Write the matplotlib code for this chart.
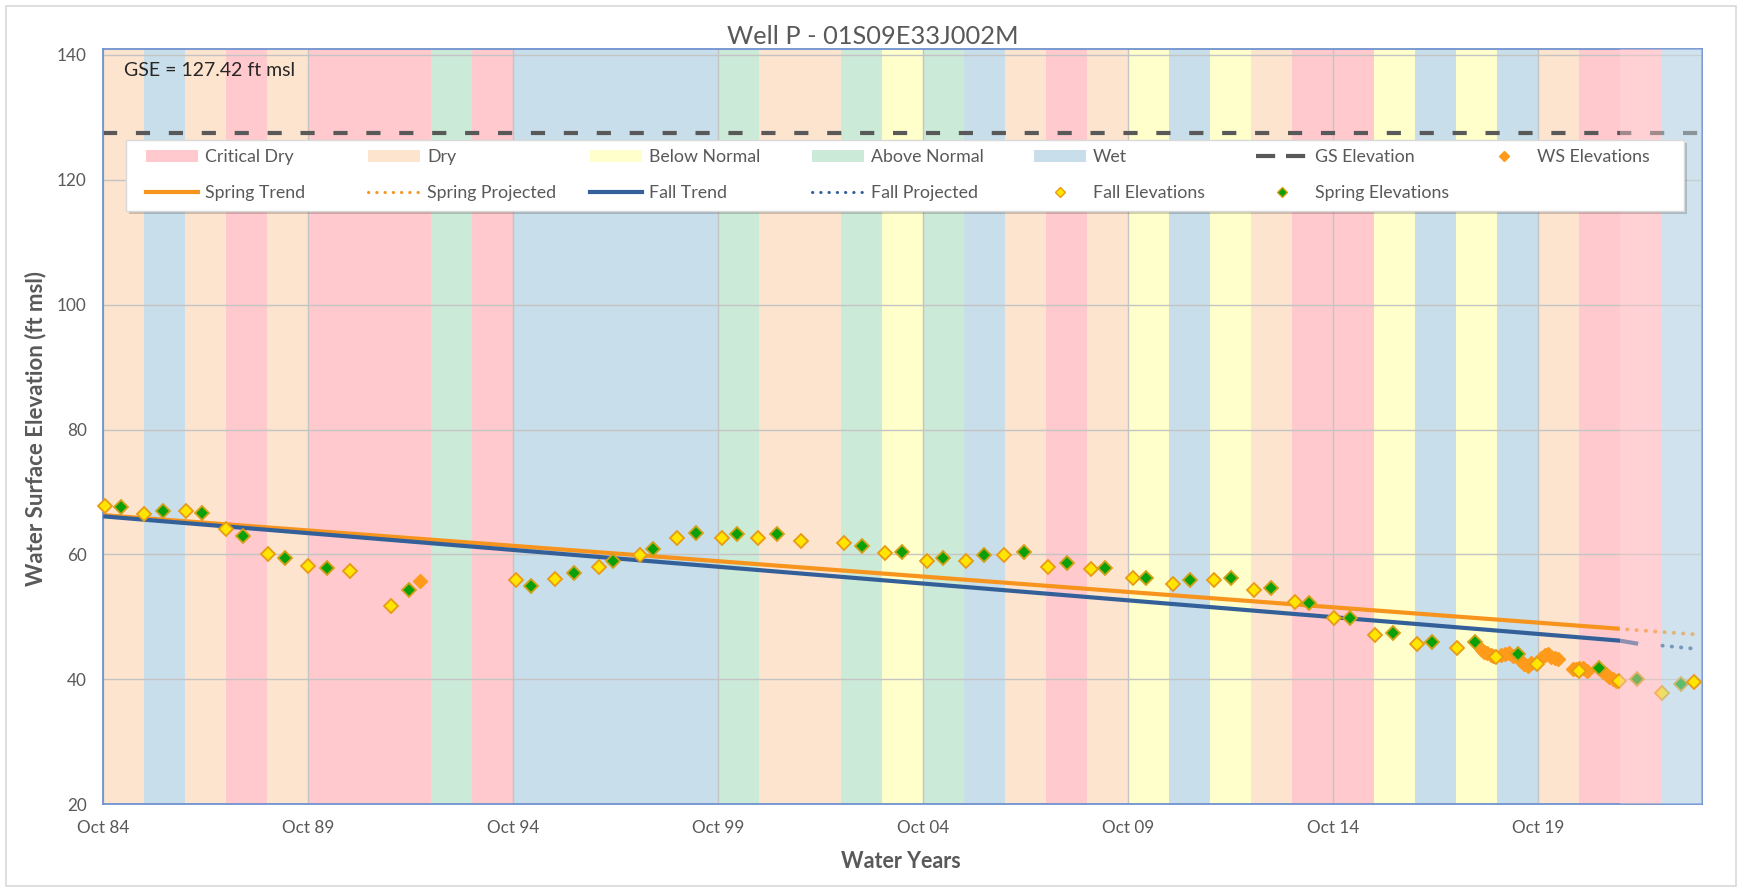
import matplotlib
matplotlib.use('Agg')
import matplotlib.pyplot as plt
from matplotlib.patches import Rectangle, Patch
from matplotlib.lines import Line2D
from matplotlib.legend import Legend

# ---------------- data ----------------
title = "Well P - 01S09E33J002M"
gse_value = 127.42

water_years = list(range(1985, 2024))
year_types = ['D', 'W', 'D', 'C', 'D', 'C', 'C', 'C', 'AN', 'C',
              'W', 'W', 'W', 'W', 'W', 'AN', 'D', 'D', 'AN', 'BN',
              'AN', 'W', 'D', 'C', 'D', 'BN', 'W', 'BN', 'D', 'C',
              'C', 'BN', 'W', 'BN', 'W', 'D', 'C', 'C', 'W']
overlay_years = [2022, 2023]

fall_years = [1984.78, 1985.75, 1986.76, 1987.74, 1988.77, 1989.75, 1990.76, 1991.77,
              1994.83, 1995.77, 1996.84, 1997.84, 1998.75, 1999.84, 2000.73, 2001.78,
              2002.82, 2003.82, 2004.84, 2005.80, 2006.73, 2007.80, 2008.84, 2009.88,
              2010.84, 2011.86, 2012.82, 2013.82, 2014.77, 2015.77, 2016.81, 2017.78,
              2018.72, 2019.73, 2020.76, 2021.74, 2022.78]
fall_vals = [67.7, 66.5, 66.9, 64.1, 60.0, 58.1, 57.3, 51.7,
             55.95, 56.05, 58.0, 59.9, 62.7, 62.7, 62.7, 62.1,
             61.9, 60.3, 58.9, 58.9, 59.9, 58.0, 57.6, 56.3,
             55.25, 55.9, 54.3, 52.4, 49.8, 47.1, 45.6, 45.1,
             43.6, 42.4, 41.4, 39.8, 37.8]
fall_latest_years = [2023.55]
fall_latest_vals = [39.5]

spring_years = [1985.19, 1986.20, 1987.17, 1988.17, 1989.19, 1990.21, 1992.21,
                1995.18, 1996.24, 1997.18, 1998.16, 1999.22, 2000.20, 2001.19,
                2003.25, 2004.24, 2005.24, 2006.24, 2007.22, 2008.26, 2009.18,
                2010.19, 2011.26, 2012.27, 2013.24, 2014.17, 2015.16, 2016.21,
                2017.18, 2018.22, 2019.26, 2021.25, 2022.18, 2023.24]
spring_vals = [67.6, 67.0, 66.7, 63.0, 59.5, 57.9, 54.3,
               55.0, 57.1, 59.0, 60.8, 63.5, 63.3, 63.3,
               61.4, 60.4, 59.5, 59.9, 60.4, 58.7, 57.9,
               56.3, 55.9, 56.3, 54.7, 52.3, 49.8, 47.4,
               46.0, 46.0, 44.1, 41.9, 40.0, 39.2]

ws_years = [1992.47, 2018.38, 2018.45, 2018.52, 2018.60, 2018.66, 2018.86, 2018.95,
            2019.05, 2019.14, 2019.35, 2019.42, 2019.50, 2019.58, 2019.84, 2019.92,
            2020.00, 2020.08, 2020.17, 2020.25, 2020.60, 2020.68, 2020.76, 2020.85,
            2020.95, 2021.35, 2021.42, 2021.50, 2021.58, 2021.66]
ws_vals = [55.8, 44.7, 44.4, 44.2, 43.9, 43.7, 43.9, 44.1,
           44.2, 43.8, 43.0, 42.4, 42.2, 42.6, 43.4, 43.9,
           44.0, 43.6, 43.5, 43.2, 41.7, 41.6, 41.8, 41.9,
           41.4, 41.2, 40.8, 40.4, 40.0, 39.8]

spring_trend_years = [1984.75, 2021.75]
spring_trend_vals = [66.3, 48.1]
spring_proj_years = [2021.93, 2023.59]
spring_proj_vals = [48.0, 47.2]
fall_trend_years = [1984.75, 2021.75, 2022.20]
fall_trend_vals = [66.1, 46.2, 45.7]
fall_proj_years = [2022.79, 2023.59]
fall_proj_vals = [45.4, 44.9]

x_ticks = [1984.75, 1989.75, 1994.75, 1999.75, 2004.75, 2009.75, 2014.75, 2019.75]
x_tick_labels = ['Oct 84', 'Oct 89', 'Oct 94', 'Oct 99', 'Oct 04', 'Oct 09', 'Oct 14', 'Oct 19']
y_ticks = [20, 40, 60, 80, 100, 120, 140]

type_colors = {'C': '#FFC9CD', 'D': '#FDE4CF', 'BN': '#FFFFCC', 'AN': '#CCEAD8', 'W': '#C8DEEA'}
type_names = {'C': 'Critical Dry', 'D': 'Dry', 'BN': 'Below Normal', 'AN': 'Above Normal', 'W': 'Wet'}

# ---------------- styles ----------------
ORANGE = '#F7941D'
BLUE = '#34609A'
GRAY_TXT = '#595959'
FALL_FC, FALL_EC = '#FFE500', '#E99A14'
SPR_FC, SPR_EC = '#0AA00A', '#D4A017'
WS_C = '#FF9A1A'

W, H = 1742, 892
plt.rcParams['font.family'] = ['Lato', 'DejaVu Sans']
fig = plt.figure(figsize=(W / 100, H / 100), dpi=100)


def fx(px):
    return px / W


def fy(py):
    return 1 - py / H


ax_l, ax_r, ax_t, ax_b = 103.3, 1701.7, 48.5, 804.3
ax = fig.add_axes([fx(ax_l), fy(ax_b), fx(ax_r) - fx(ax_l), fy(ax_t) - fy(ax_b)])
ax.set_xlim(1984.75, 2023.75)
ax.set_ylim(20, 141)

# water-year bands (Oct of previous year to Oct of the water year)
for wy, t in zip(water_years, year_types):
    base_alpha = 0.7 if wy in overlay_years else 1.0
    ax.axvspan(wy - 0.25, wy + 0.75, color=type_colors[t], alpha=base_alpha, lw=0, zorder=0)

# grid
ax.set_axisbelow(True)
ax.set_xticks(x_ticks)
ax.set_xticklabels(x_tick_labels)
ax.set_yticks(y_ticks)
ax.grid(True, color='#c4c4c4', lw=1.0)
ax.tick_params(length=0, colors=GRAY_TXT, labelsize=12.3)
ax.tick_params(axis='y', pad=12)
ax.tick_params(axis='x', pad=11)
for s in ax.spines.values():
    s.set_color('#7092d0')
    s.set_linewidth(1.3)

# GS elevation
ax.axhline(gse_value, color='#595959', lw=3, dashes=(3.4, 4.5), zorder=2)

# trend lines
ax.plot(spring_trend_years, spring_trend_vals, color=ORANGE, lw=3, zorder=2.5, solid_capstyle='butt')
ax.plot(fall_trend_years, fall_trend_vals, color=BLUE, lw=3, zorder=2.6, solid_capstyle='butt')
ax.plot(spring_proj_years, spring_proj_vals, color=ORANGE, lw=2.8, ls=(0, (0.1, 2.3)),
        dash_capstyle='round', zorder=2.5)
ax.plot(fall_proj_years, fall_proj_vals, color=BLUE, lw=2.8, ls=(0, (0.1, 2.3)),
        dash_capstyle='round', zorder=2.6)

# points
ax.plot(ws_years, ws_vals, ls='none', marker='D', ms=7.5, mfc=WS_C, mec=WS_C, mew=1.0, zorder=3)
ax.plot(fall_years, fall_vals, ls='none', marker='D', ms=7.5, mfc=FALL_FC, mec=FALL_EC, mew=1.3,
        zorder=3.2, clip_on=False)
ax.plot(spring_years, spring_vals, ls='none', marker='D', ms=7.5, mfc=SPR_FC, mec=SPR_EC, mew=1.3,
        zorder=3.3, clip_on=False)

# translucent overlay for latest water years
for wy, t in zip(water_years, year_types):
    if wy in overlay_years:
        ax.axvspan(wy - 0.25, wy + 0.75, color=type_colors[t], alpha=0.45, lw=0, zorder=4)

ax.plot(fall_latest_years, fall_latest_vals, ls='none', marker='D', ms=7.5, mfc=FALL_FC,
        mec=FALL_EC, mew=1.3, zorder=4.5, clip_on=False)

# GSE annotation
fig.text(fx(124), fy(70), f"GSE = {gse_value:.2f} ft msl", fontsize=14, color='#262626',
         ha='left', va='center')

# legend box
box_l, box_t, box_r, box_b = 126, 140, 1684, 211
shadow = Rectangle((fx(box_l + 3), fy(box_b + 3)), fx(box_r) - fx(box_l), fy(box_t) - fy(box_b),
                   transform=fig.transFigure, facecolor='#000000', alpha=0.18, lw=0, zorder=4.7,
                   clip_on=False)
ax.add_patch(shadow)
box = Rectangle((fx(box_l), fy(box_b)), fx(box_r) - fx(box_l), fy(box_t) - fy(box_b),
                transform=fig.transFigure, facecolor='white', edgecolor='#d9d9d9', lw=1,
                zorder=4.8, clip_on=False)
ax.add_patch(box)

band_handles = [Patch(facecolor=type_colors[k], edgecolor='none') for k in ['C', 'D', 'BN', 'AN', 'W']]
band_labels = [type_names[k] for k in ['C', 'D', 'BN', 'AN', 'W']]
h_spring = Line2D([], [], color=ORANGE, lw=3)
h_spring_p = Line2D([], [], color=ORANGE, lw=2.2, ls=(0, (0.1, 2.6)), dash_capstyle='round')
h_fall = Line2D([], [], color=BLUE, lw=3)
h_fall_p = Line2D([], [], color=BLUE, lw=2.2, ls=(0, (0.1, 2.6)), dash_capstyle='round')
h_fall_pts = Line2D([], [], ls='none', marker='D', ms=5, mfc=FALL_FC, mec=FALL_EC, mew=1)
h_spr_pts = Line2D([], [], ls='none', marker='D', ms=5, mfc=SPR_FC, mec=SPR_EC, mew=1)
h_ws = Line2D([], [], ls='none', marker='D', ms=5, mfc=WS_C, mec=WS_C, mew=1)
h_gs = Line2D([], [], color='#595959', lw=3, dashes=(4.6, 2.6))

columns = [
    [(band_handles[0], band_labels[0]), (h_spring, 'Spring Trend')],
    [(band_handles[1], band_labels[1]), (h_spring_p, 'Spring Projected')],
    [(band_handles[2], band_labels[2]), (h_fall, 'Fall Trend')],
    [(band_handles[3], band_labels[3]), (h_fall_p, 'Fall Projected')],
    [(band_handles[4], band_labels[4]), (h_fall_pts, 'Fall Elevations')],
    [(h_gs, 'GS Elevation'), (h_spr_pts, 'Spring Elevations')],
    [(h_ws, 'WS Elevations')],
]
leg_fs = 12.8
for i, col in enumerate(columns):
    hs = [c[0] for c in col]
    ls_ = [c[1] for c in col]
    leg = Legend(ax, hs, ls_, loc='upper left', bbox_to_anchor=(fx(146 + 222 * i), fy(149)),
                 bbox_transform=fig.transFigure, frameon=False, fontsize=leg_fs,
                 handlelength=52 / (leg_fs * 1.389), handletextpad=0.4, labelspacing=1.1,
                 borderpad=0, borderaxespad=0, handleheight=0.62)
    for txt in leg.get_texts():
        txt.set_color(GRAY_TXT)
    leg.set_zorder(5)
    ax.add_artist(leg)

# titles and axis labels
fig.text(fx(873), fy(37), title, fontsize=18.3, color=GRAY_TXT, ha='center', va='center')
fig.text(fx(36), fy(428), 'Water Surface Elevation (ft msl)', fontsize=16, fontweight='bold',
         color=GRAY_TXT, rotation=90, ha='center', va='center')
fig.text(fx(901), fy(862), 'Water Years', fontsize=15.5, fontweight='bold', color=GRAY_TXT,
         ha='center', va='center')

# outer chart border
fig.patches.append(Rectangle((fx(6), fy(886)), fx(1736) - fx(6), fy(6) - fy(886),
                             transform=fig.transFigure, fill=False, edgecolor='#d9d9d9', lw=1.2))

fig.savefig('out.png', dpi=100)
